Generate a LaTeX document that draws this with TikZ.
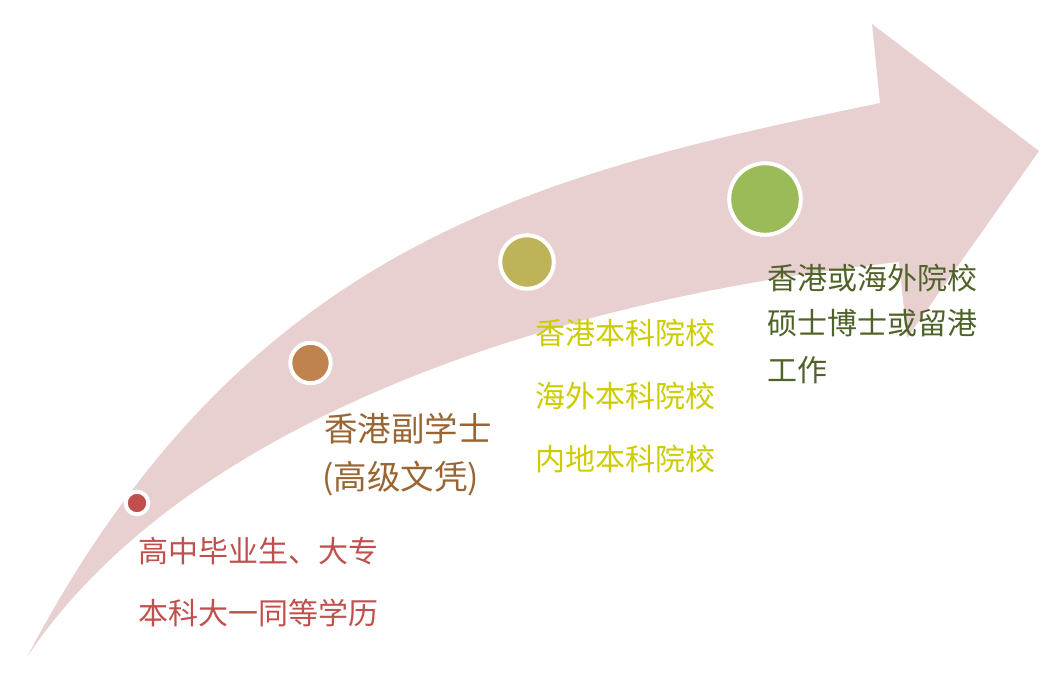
\documentclass[tikz,border=0pt]{standalone}
\usepackage{fontspec}
\setmainfont{Noto Sans CJK SC}
\usepackage{tikz}

\definecolor{arrowpink}{HTML}{E8D0D1}
\definecolor{stagered}{HTML}{C0504D}
\definecolor{stagebrown}{HTML}{C0834F}
\definecolor{textbrown}{HTML}{996633}
\definecolor{stageolive}{HTML}{BFB35A}
\definecolor{textyellow}{HTML}{CCCC00}
\definecolor{stagegreen}{HTML}{9BBB59}
\definecolor{textgreen}{HTML}{4F6228}

\begin{document}
\begin{tikzpicture}[x=1pt,y=-1pt,
    dot/.style={circle, draw=white, line width=4pt, inner sep=0pt},
    stagetext/.style={anchor=base west, inner sep=0pt, font=\fontsize{30}{36}\selectfont}]
     \useasboundingbox (0,0) rectangle (1058,673);
     \coordinate (BL) at (27,657);
     \coordinate (UE) at (880,103);
     \coordinate (HT) at (872,24);
     \coordinate (TIP) at (1039,151);
     \coordinate (HB) at (907,338);
     \coordinate (LE) at (899,262);
     % curved arrow
     \fill[arrowpink] (BL) .. controls (247,239) and (544,173) .. (UE) -- (HT) -- (TIP)
          -- (HB) -- (LE) .. controls (527,302) and (177,432) .. (BL) -- cycle;
     % stage dots
     \node[dot, fill=stagered, minimum size=22.6pt] (d1) at (137,503) {};
     \node[dot, fill=stagebrown, minimum size=40.4pt] (d2) at (310.5,363) {};
     \node[dot, fill=stageolive, minimum size=53.6pt] (d3) at (527,262) {};
     \node[dot, fill=stagegreen, minimum size=71.6pt] (d4) at (765,199) {};
     % texts
     \node[stagetext, text=stagered] (t11) at (138,562.4) {高中毕业生、大专};
     \node[stagetext, text=stagered] (t12) at (138,624.4) {本科大一同等学历};
     \node[stagetext, text=textbrown, font=\fontsize{33.5}{40}\selectfont] (t21) at (324,441.2) {香港副学士};
     \node[stagetext, text=textbrown, font=\fontsize{33.5}{40}\selectfont] (t22) at (322,489.7) {(高级文凭)};
     \node[stagetext, text=textyellow] (t31) at (535,344.9) {香港本科院校};
     \node[stagetext, text=textyellow] (t32) at (535,407.4) {海外本科院校};
     \node[stagetext, text=textyellow] (t33) at (535,470.4) {内地本科院校};
     \node[stagetext, text=textgreen] (t41) at (767,289.9) {香港或海外院校};
     \node[stagetext, text=textgreen] (t42) at (767,334.9) {硕士博士或留港};
     \node[stagetext, text=textgreen] (t43) at (767,381.4) {工作};
\end{tikzpicture}
\end{document}
